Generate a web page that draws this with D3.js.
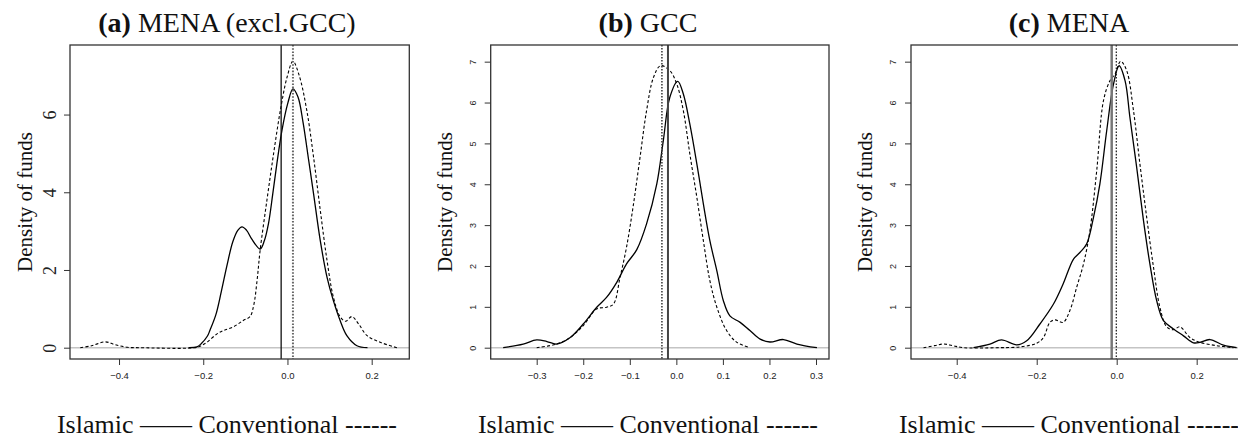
<!DOCTYPE html>
<html lang="en">
<head>
<meta charset="UTF-8">
<title>Density of funds</title>
<script src="https://d3js.org/d3.v7.min.js"></script>
<style>
    body { margin: 0; background: #fff; }
    svg { display: block; }
    .serif { font-family: "Liberation Serif", "DejaVu Serif", serif; fill: #111; }
    .tick text { font-family: "Liberation Sans", Arial, sans-serif; fill: #222; }
</style>
</head>
<body>
<svg id="chart" width="1238" height="442"></svg>
<script>
// density estimates, [return, density]
const islamicA = [[-0.235,0],[-0.215,0.02],[-0.205,0.1],[-0.19,0.3],[-0.184,0.45],[-0.17,0.85],[-0.157,1.45],[-0.144,2.1],[-0.13,2.72],[-0.118,3.02],[-0.108,3.11],[-0.097,3.02],[-0.085,2.8],[-0.065,2.54],[-0.055,2.75],[-0.045,3.2],[-0.035,3.95],[-0.025,4.75],[-0.013,5.6],[0.001,6.3],[0.013,6.66],[0.025,6.45],[0.037,5.8],[0.05,4.85],[0.062,3.96],[0.078,2.75],[0.094,1.81],[0.109,1.21],[0.125,0.7],[0.141,0.31],[0.165,0.05],[0.19,0]];
const conventionalA = [[-0.492,0],[-0.465,0.05],[-0.433,0.15],[-0.41,0.08],[-0.38,0.01],[-0.35,0],[-0.22,0],[-0.205,0.05],[-0.191,0.14],[-0.168,0.35],[-0.152,0.44],[-0.128,0.54],[-0.105,0.7],[-0.089,0.8],[-0.08,1.1],[-0.072,1.75],[-0.065,2.5],[-0.049,3.78],[-0.033,4.99],[-0.017,6.1],[-0.001,6.96],[0.013,7.37],[0.028,7.0],[0.046,6.1],[0.062,4.9],[0.078,3.53],[0.094,2.24],[0.109,1.3],[0.125,0.8],[0.138,0.68],[0.153,0.8],[0.169,0.61],[0.189,0.31],[0.22,0.14],[0.26,0]];
const islamicB = [[-0.372,0],[-0.329,0.09],[-0.3,0.19],[-0.278,0.15],[-0.257,0.09],[-0.228,0.25],[-0.2,0.58],[-0.171,0.99],[-0.15,1.23],[-0.128,1.6],[-0.107,2.05],[-0.085,2.4],[-0.064,3.03],[-0.042,4.01],[-0.028,5.07],[-0.014,6.13],[0.003,6.52],[0.015,6.21],[0.029,5.47],[0.044,4.5],[0.058,3.52],[0.072,2.62],[0.087,1.88],[0.101,1.15],[0.115,0.78],[0.137,0.62],[0.158,0.42],[0.18,0.21],[0.201,0.14],[0.23,0.2],[0.259,0.09],[0.302,0]];
const conventionalB = [[-0.3,0],[-0.257,0.09],[-0.228,0.25],[-0.2,0.54],[-0.171,0.95],[-0.15,0.99],[-0.135,1.07],[-0.121,1.72],[-0.107,2.46],[-0.092,3.52],[-0.078,4.66],[-0.064,5.8],[-0.049,6.62],[-0.034,6.9],[-0.014,6.78],[0.001,6.45],[0.015,5.8],[0.029,4.74],[0.044,3.68],[0.058,2.62],[0.072,1.64],[0.087,0.99],[0.108,0.42],[0.13,0.13],[0.158,0]];
const islamicC = [[-0.358,0],[-0.317,0.09],[-0.288,0.19],[-0.25,0.07],[-0.225,0.17],[-0.192,0.58],[-0.158,1.07],[-0.134,1.56],[-0.108,2.17],[-0.092,2.33],[-0.075,2.54],[-0.058,3.19],[-0.042,4.01],[-0.025,5.31],[-0.008,6.45],[0.006,6.9],[0.021,6.53],[0.033,5.64],[0.05,4.41],[0.067,3.11],[0.083,2.05],[0.1,1.15],[0.117,0.66],[0.142,0.46],[0.167,0.29],[0.192,0.12],[0.208,0.13],[0.233,0.2],[0.267,0.06],[0.3,0]];
const conventionalC = [[-0.483,0],[-0.455,0.05],[-0.433,0.09],[-0.41,0.05],[-0.383,0],[-0.3,0],[-0.242,0.02],[-0.2,0.11],[-0.183,0.25],[-0.167,0.62],[-0.154,0.68],[-0.134,0.62],[-0.117,0.91],[-0.1,1.48],[-0.083,2.05],[-0.067,2.86],[-0.05,4.33],[-0.033,6.05],[-0.017,6.53],[-0.004,6.7],[0.01,7.01],[0.025,6.78],[0.042,5.8],[0.058,4.5],[0.075,3.19],[0.092,1.97],[0.108,0.99],[0.125,0.51],[0.142,0.44],[0.158,0.51],[0.183,0.25],[0.208,0.13],[0.25,0.05],[0.292,0]];

// mean lines: [islamic, conventional]
const meansA = [-0.015, 0.013];
const meansB = [-0.018, -0.031];
const meansC = [-0.0125, -0.001];

const xTicksA = [-0.4, -0.2, 0.0, 0.2];
const xTicksB = [-0.3, -0.2, -0.1, 0.0, 0.1, 0.2, 0.3];
const xTicksC = [-0.4, -0.2, 0.0, 0.2];
const yTicksA = [0, 2, 4, 6];
const yTicksB = [0, 1, 2, 3, 4, 5, 6, 7];
const yTicksC = [0, 1, 2, 3, 4, 5, 6, 7];

const titles = [['(a)', ' MENA (excl.GCC)'], ['(b)', ' GCC'], ['(c)', ' MENA']];
const yLabel = 'Density of funds';
const legendText = 'Islamic \u2014\u2014 Conventional ------';

const panels = [
    { title: titles[0], islamic: islamicA, conventional: conventionalA, means: meansA,
      xTicks: xTicksA, yTicks: yTicksA, box: [70, 45, 409.3, 359],
      xDomain: [-0.5164, 0.2893], yDomain: [-0.291, 7.79], cx: 227, ylabX: 32, yTickBase: 56, bigY: true,
      meanStyle: [{ c: '#111', w: 1.3, d: null }, { c: '#666', w: 2, d: '1.6,1.6' }] },
    { title: titles[1], islamic: islamicB, conventional: conventionalB, means: meansB,
      xTicks: xTicksB, yTicks: yTicksB, box: [490.7, 45, 829, 359],
      xDomain: [-0.3988, 0.3279], yDomain: [-0.2766, 7.408], cx: 648, ylabX: 452, yTickBase: 476, bigY: false,
      meanStyle: [{ c: '#444', w: 2, d: null }, { c: '#333', w: 1.5, d: '1.6,1.4' }] },
    { title: titles[2], islamic: islamicC, conventional: conventionalC, means: meansC,
      xTicks: xTicksC, yTicks: yTicksC, box: [911, 45, 1240, 359],
      xDomain: [-0.5143, 0.3083], yDomain: [-0.2766, 7.408], cx: 1069, ylabX: 872, yTickBase: 896, bigY: false,
      meanStyle: [{ c: '#777', w: 2.5, d: null }, { c: '#111', w: 1.2, d: '1.6,1.6' }] }
];

const svg = d3.select('#chart');
svg.append('rect').attr('width', 1238).attr('height', 442).attr('fill', '#fff');

panels.forEach((p, i) => {
    const [x0, y0, x1, y1] = p.box;
    const x = d3.scaleLinear().domain(p.xDomain).range([x0, x1]);
    const y = d3.scaleLinear().domain(p.yDomain).range([y1, y0]);
    const g = svg.append('g');

    g.append('clipPath').attr('id', 'clip' + i)
        .append('rect').attr('x', x0).attr('y', y0).attr('width', x1 - x0).attr('height', y1 - y0);
    const plot = g.append('g').attr('clip-path', `url(#clip${i})`);

    // grey zero line
    plot.append('line')
        .attr('x1', x0).attr('x2', x1).attr('y1', y(0)).attr('y2', y(0))
        .attr('stroke', '#c4c4c4').attr('stroke-width', 1.5);

    const line = d3.line()
        .x(d => x(d[0]))
        .y(d => y(d[1]))
        .curve(d3.curveCatmullRom.alpha(0.5));

    plot.append('path').datum(p.islamic)
        .attr('d', line).attr('fill', 'none')
        .attr('stroke', '#000').attr('stroke-width', 1.3);
    plot.append('path').datum(p.conventional)
        .attr('d', line).attr('fill', 'none')
        .attr('stroke', '#000').attr('stroke-width', 1.1)
        .attr('stroke-dasharray', '3,2.2');

    p.means.forEach((m, k) => {
        const s = p.meanStyle[k];
        plot.append('line')
            .attr('x1', x(m)).attr('x2', x(m)).attr('y1', y0).attr('y2', y1)
            .attr('stroke', s.c).attr('stroke-width', s.w)
            .attr('stroke-dasharray', s.d);
    });

    g.append('rect')
        .attr('x', x0).attr('y', y0).attr('width', x1 - x0).attr('height', y1 - y0)
        .attr('fill', 'none').attr('stroke', '#333').attr('stroke-width', 1.3);

    // x axis
    const xa = g.append('g').attr('transform', `translate(0,${y1})`)
        .call(d3.axisBottom(x).tickValues(p.xTicks).tickSize(6).tickPadding(7).tickFormat(d3.format('.1f')));
    xa.select('.domain').remove();
    xa.selectAll('.tick line').attr('stroke', '#333');
    xa.selectAll('.tick text').attr('font-size', 9.5);

    // y axis, labels rotated like R
    const ya = g.append('g').attr('transform', `translate(${x0},0)`)
        .call(d3.axisLeft(y).tickValues(p.yTicks).tickSize(6).tickFormat(d3.format('d')));
    ya.select('.domain').remove();
    ya.selectAll('.tick line').attr('stroke', '#333');
    ya.selectAll('.tick text')
        .attr('transform', 'rotate(-90)')
        .attr('x', 0).attr('dy', 0)
        .attr('y', -(x0 - p.yTickBase))
        .attr('text-anchor', 'middle')
        .attr('font-size', p.bigY ? 18 : 9);
    if (p.bigY) ya.selectAll('.tick text').attr('class', 'serif').style('font-family', '"Liberation Serif", serif');

    // y label
    g.append('text').attr('class', 'serif')
        .attr('transform', `translate(${p.ylabX},202) rotate(-90)`)
        .attr('text-anchor', 'middle').attr('font-size', 21)
        .text(yLabel);

    // title
    const t = g.append('text').attr('class', 'serif')
        .attr('x', p.cx).attr('y', 32).attr('text-anchor', 'middle').attr('font-size', 28);
    t.append('tspan').attr('font-weight', 'bold').text(p.title[0]);
    t.append('tspan').text(p.title[1]);

    // legend line under each panel
    g.append('text').attr('class', 'serif')
        .attr('x', p.cx).attr('y', 433).attr('text-anchor', 'middle').attr('font-size', 26)
        .text(legendText);
});
</script>
</body>
</html>
